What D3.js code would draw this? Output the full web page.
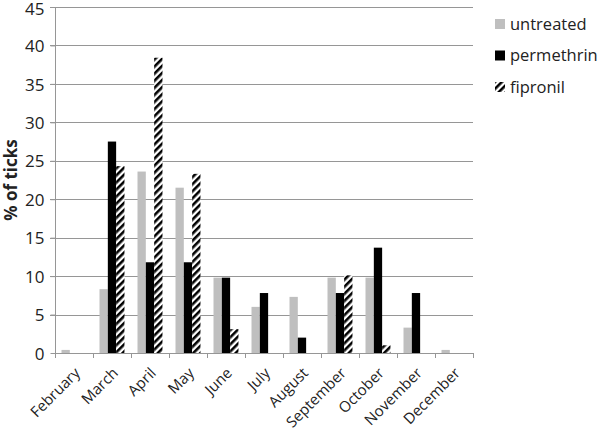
<!DOCTYPE html>
<html><head><meta charset="utf-8">
<script src="https://cdn.jsdelivr.net/npm/d3@7"></script>
<style>body{margin:0;background:#fff}svg{display:block}</style>
</head><body>
<svg id="c" width="600" height="430"></svg>
<script>
const months = ["February","March","April","May","June","July","August","September","October","November","December"];
const untreated = [0.4, 8.3, 23.6, 21.5, 9.8, 6.0, 7.3, 9.8, 9.8, 3.3, 0.4];
const permethrin = [0, 27.5, 11.8, 11.8, 9.8, 7.8, 2.0, 7.8, 13.7, 7.8, 0];
const fipronil = [0, 24.3, 38.4, 23.3, 3.1, 0, 0, 10.1, 1.0, 0, 0];
const seriesNames = ["untreated","permethrin","fipronil"];
const yTicks = [0,5,10,15,20,25,30,35,40,45];

const svg = d3.select("#c");
const font = "'Open Sans', 'Noto Sans', sans-serif";
const m = {l:55, r:127, t:7, b:77};
const W = 600, H = 430;
const x = d3.scaleBand().domain(months).range([m.l, W-m.r]);
const y = d3.scaleLinear().domain([0,45]).range([H-m.b, m.t]);
const sub = d3.scaleBand().domain(seriesNames).range([0, 25]);

const defs = svg.append("defs");
const pat = defs.append("pattern").attr("id","hatch").attr("patternUnits","userSpaceOnUse")
  .attr("width",5).attr("height",5).attr("patternTransform","rotate(45)");
pat.append("rect").attr("width",5).attr("height",5).attr("fill","#fff");
pat.append("rect").attr("x",0).attr("width",2.6).attr("height",5).attr("fill","#000");

// gridlines
svg.append("g").selectAll("line").data(yTicks.filter(d=>d>0)).join("line")
  .attr("x1",m.l-5).attr("x2",W-m.r).attr("y1",d=>Math.round(y(d))+0.5).attr("y2",d=>Math.round(y(d))+0.5)
  .attr("stroke","#969696").attr("stroke-width",1);

const fills = {untreated:"#bfbfbf", permethrin:"#000", fipronil:"url(#hatch)"};
const data = {untreated, permethrin, fipronil};
const bw = 8.3;
seriesNames.forEach(s=>{
  svg.append("g").selectAll("rect").data(months.map((mo,i)=>({mo, v:data[s][i]})).filter(d=>d.v>0)).join("rect")
    .attr("x", d=>x(d.mo) + x.bandwidth()/2 - 12.5 + sub(s))
    .attr("width", bw)
    .attr("y", d=>y(d.v)).attr("height", d=>y(0)-y(d.v))
    .attr("fill", fills[s]);
});

// y axis
const yAxis = svg.append("g").attr("transform",`translate(${m.l+0.5},0)`)
  .call(d3.axisLeft(y).tickValues(yTicks).tickSize(5).tickPadding(6));
yAxis.select(".domain").attr("stroke","#969696").attr("d",`M0,${y(45)}V${y(0)}`);
yAxis.selectAll(".tick line").attr("stroke","#969696");
yAxis.selectAll("text").attr("font-family",font).attr("font-size",17).attr("fill","#222")
  .attr("dy", d=>d===45 ? "0.46em" : "0.36em");

// x axis
const xAxis = svg.append("g").attr("transform",`translate(0,${Math.round(y(0))+0.5})`)
  .call(d3.axisBottom(x).tickSize(0).tickFormat(""));
xAxis.select(".domain").attr("stroke","#969696").attr("d",`M${m.l},0H${W-m.r}`);
svg.append("g").selectAll("line").data(months.concat(["_end"])).join("line")
  .attr("x1",(d,i)=>Math.round(m.l + i*x.step())+0.5).attr("x2",(d,i)=>Math.round(m.l + i*x.step())+0.5)
  .attr("y1",y(0)).attr("y2",y(0)+5).attr("stroke","#969696");
svg.append("g").selectAll("text").data(months).join("text")
  .attr("transform", d=>`translate(${x(d)+x.bandwidth()/2+7},${y(0)+21}) rotate(-45)`)
  .attr("text-anchor","end")
  .attr("font-family",font).attr("font-size",15).attr("fill","#222")
  .text(d=>d);

// y title
svg.append("text").attr("transform",`translate(17,${(y(0)+y(45))/2}) rotate(-90)`)
  .attr("text-anchor","middle").attr("font-family",font).attr("font-size",17).attr("font-weight","bold")
  .attr("fill","#222").text("% of ticks");

// legend
const lg = svg.append("g").attr("transform","translate(495,24)");
seriesNames.forEach((s,i)=>{
  const g = lg.append("g").attr("transform",`translate(0,${i*31.5})`);
  g.append("rect").attr("x",0).attr("y",-5).attr("width",10).attr("height",10).attr("fill",fills[s]);
  g.append("text").attr("x",15).attr("dy","0.36em").attr("font-family",font).attr("font-size",16.5)
    .attr("fill","#222").text(s);
});
</script>
</body></html>
